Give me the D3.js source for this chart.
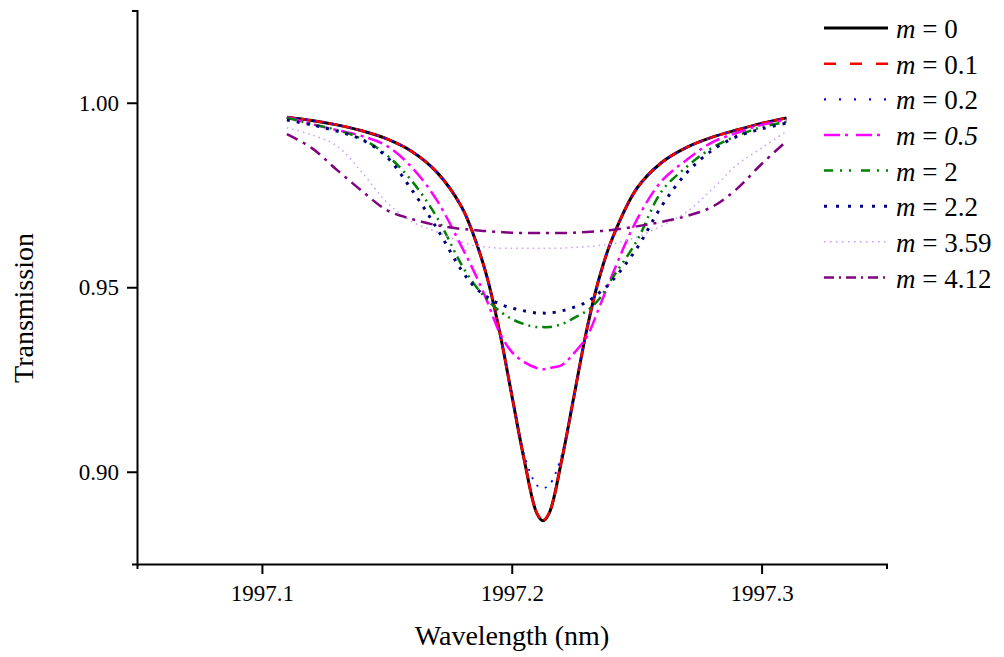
<!DOCTYPE html>
<html>
<head>
<meta charset="utf-8">
<script src="https://cdn.jsdelivr.net/npm/d3@7"></script>
<style>
  html, body { margin: 0; padding: 0; background: #fff; }
  svg { display: block; }
  text { font-family: "Liberation Serif", "Times New Roman", serif; fill: #000; }
</style>
</head>
<body>
<svg id="chart" width="1004" height="657"></svg>
<script>
// Wavelength grid (nm), denser around the resonance
const wavelength = [1997.11, 1997.12, 1997.13, 1997.14, 1997.15, 1997.16, 1997.17, 1997.18,
  1997.185, 1997.19, 1997.195, 1997.20, 1997.205, 1997.21, 1997.2125, 1997.215, 1997.22,
  1997.225, 1997.23, 1997.235, 1997.24, 1997.25, 1997.26, 1997.27, 1997.28, 1997.29,
  1997.30, 1997.31];

// Transmission for each value of m
const transM0 = [0.9961, 0.9952, 0.9940, 0.9924, 0.9902, 0.9868, 0.9812, 0.9717, 0.9636, 0.9530,
  0.9384, 0.9208, 0.9032, 0.8888, 0.8867, 0.8888, 0.9032, 0.9208, 0.9384, 0.9525, 0.9628, 0.9767,
  0.9838, 0.9879, 0.9906, 0.9926, 0.9944, 0.9959];
const transM01 = [0.9961, 0.9952, 0.9940, 0.9924, 0.9902, 0.9868, 0.9812, 0.9717, 0.9636, 0.9530,
  0.9384, 0.9208, 0.9032, 0.8889, 0.8869, 0.8889, 0.9032, 0.9208, 0.9384, 0.9525, 0.9628, 0.9767,
  0.9838, 0.9879, 0.9906, 0.9926, 0.9944, 0.9959];
const transM02 = [0.9961, 0.9952, 0.9940, 0.9924, 0.9902, 0.9868, 0.9812, 0.9717, 0.9636, 0.9530,
  0.9384, 0.9213, 0.9045, 0.8964, 0.8956, 0.8964, 0.9045, 0.9213, 0.9384, 0.9525, 0.9628, 0.9767,
  0.9838, 0.9879, 0.9906, 0.9926, 0.9944, 0.9959];
const transM05 = [0.9961, 0.9942, 0.9926, 0.9910, 0.9883, 0.9825, 0.9736, 0.9609, 0.9541, 0.9465,
  0.9379, 0.9325, 0.9297, 0.9281, 0.9278, 0.9281, 0.9289, 0.9322, 0.9365, 0.9445, 0.9530, 0.9682,
  0.9788, 0.9845, 0.9892, 0.9918, 0.9940, 0.9953];
const transM2 = [0.9959, 0.9942, 0.9926, 0.9902, 0.9858, 0.9788, 0.9690, 0.9560, 0.9508, 0.9468,
  0.9436, 0.9414, 0.9400, 0.9392, 0.9392, 0.9392, 0.9400, 0.9417, 0.9436, 0.9468, 0.9522, 0.9625,
  0.9760, 0.9826, 0.9877, 0.9910, 0.9934, 0.9948];
const transM22 = [0.9953, 0.9940, 0.9923, 0.9900, 0.9853, 0.9764, 0.9660, 0.9545, 0.9502, 0.9474,
  0.9455, 0.9444, 0.9436, 0.9430, 0.9430, 0.9430, 0.9436, 0.9446, 0.9460, 0.9485, 0.9516, 0.9605,
  0.9720, 0.9810, 0.9870, 0.9908, 0.9929, 0.9945];
const transM359 = [0.9932, 0.9913, 0.9883, 0.9812, 0.9730, 0.9678, 0.9650, 0.9622, 0.9613, 0.9609,
  0.9606, 0.9606, 0.9606, 0.9606, 0.9606, 0.9606, 0.9606, 0.9608, 0.9610, 0.9613, 0.9617, 0.9636,
  0.9666, 0.9704, 0.9764, 0.9831, 0.9877, 0.9923];
const transM412 = [0.9915, 0.9877, 0.9818, 0.9761, 0.9709, 0.9685, 0.9668, 0.9658, 0.9655, 0.9652,
  0.9650, 0.9648, 0.9647, 0.9647, 0.9647, 0.9647, 0.9647, 0.9648, 0.9650, 0.9652, 0.9655, 0.9665,
  0.9677, 0.9693, 0.9717, 0.9766, 0.9834, 0.9896];

const mLabels = ["0", "0.1", "0.2", "0.5", "2", "2.2", "3.59", "4.12"];
const xTicks = [1997.1, 1997.2, 1997.3];
const yTicks = [0.90, 0.95, 1.00];

// Line styles per curve
const colors = ["#000000", "#ff0000", "#0000ff", "#ff00ff", "#008000", "#000080", "#c99cff", "#800080"];
const widths = [3, 2.5, 1.8, 2.5, 2.5, 3, 1.5, 2.5];
const legendWidths = [3, 2.5, 2.2, 2.5, 2.5, 3, 1.5, 2.5];
const dashes = [null, "10,4", "2,7", "15,5,3,5", "10,5,2,5,2,5", "3,7", "1.5,4", "12,6,3,6"];
const legendDashes = [null, "12,14", "2,13", "16,5,3,8", "9,7,2,7,2,10", "3,9", "1.5,4.5", "10,5,2,5"];

const seriesValues = [transM0, transM01, transM02, transM05, transM2, transM22, transM359, transM412];
const series = seriesValues.map((vals, i) => ({
  label: mLabels[i],
  points: wavelength.map((w, j) => ({ w, t: vals[j] }))
}));

const svg = d3.select("#chart");

const x = d3.scaleLinear().domain([1997.05, 1997.35]).range([137, 886.5]);
const y = d3.scaleLinear().domain([0.875, 1.025]).range([564, 10.5]);

// Curves
const line = d3.line()
  .x(d => x(d.w))
  .y(d => y(d.t))
  .curve(d3.curveCatmullRom.alpha(0.5));

svg.append("g").selectAll("path")
  .data(series)
  .join("path")
  .attr("d", d => line(d.points))
  .attr("fill", "none")
  .attr("stroke", (d, i) => colors[i])
  .attr("stroke-width", (d, i) => widths[i])
  .attr("stroke-dasharray", (d, i) => dashes[i])
  .attr("stroke-linejoin", "round");

// Axes
const xAxis = d3.axisBottom(x)
  .tickValues(xTicks)
  .tickFormat(d3.format(".1f"))
  .tickSizeInner(10)
  .tickSizeOuter(5)
  .tickPadding(11);

const yAxis = d3.axisLeft(y)
  .tickValues(yTicks)
  .tickFormat(d3.format(".2f"))
  .tickSizeInner(10)
  .tickSizeOuter(5)
  .tickPadding(8);

const gx = svg.append("g").attr("transform", "translate(0,564)").call(xAxis);
const gy = svg.append("g").attr("transform", "translate(137,0)").call(yAxis);

[gx, gy].forEach(g => {
  g.attr("font-family", null);
  g.select(".domain").attr("stroke", "#000").attr("stroke-width", 2);
  g.selectAll(".tick line").attr("stroke", "#000").attr("stroke-width", 2);
  g.selectAll(".tick text")
    .style("font-family", "'Liberation Serif', 'Times New Roman', serif")
    .attr("font-size", 23)
    .attr("fill", "#000");
});

// Axis titles
svg.append("text")
  .attr("x", 512)
  .attr("y", 645)
  .attr("text-anchor", "middle")
  .attr("font-size", 28)
  .text("Wavelength (nm)");

svg.append("text")
  .attr("transform", "translate(33,308) rotate(-90)")
  .attr("text-anchor", "middle")
  .attr("font-size", 28)
  .text("Transmission");

// Legend
const legend = svg.append("g");
const rowY = d3.scaleLinear().domain([0, 7]).range([28, 277.5]);

const rows = legend.selectAll("g")
  .data(series)
  .join("g")
  .attr("transform", (d, i) => `translate(0,${rowY(i)})`);

rows.append("line")
  .attr("x1", 824).attr("x2", 888)
  .attr("y1", 0).attr("y2", 0)
  .attr("stroke", (d, i) => colors[i])
  .attr("stroke-width", (d, i) => legendWidths[i])
  .attr("stroke-dasharray", (d, i) => legendDashes[i]);

const labels = rows.append("text")
  .attr("x", 896)
  .attr("y", 10)
  .attr("font-size", 27);

labels.append("tspan").attr("font-style", "italic").text("m");
labels.append("tspan").text(" = ");
labels.append("tspan")
  .attr("font-style", d => d.label === "0.5" ? "italic" : "normal")
  .text(d => d.label);
</script>
</body>
</html>
